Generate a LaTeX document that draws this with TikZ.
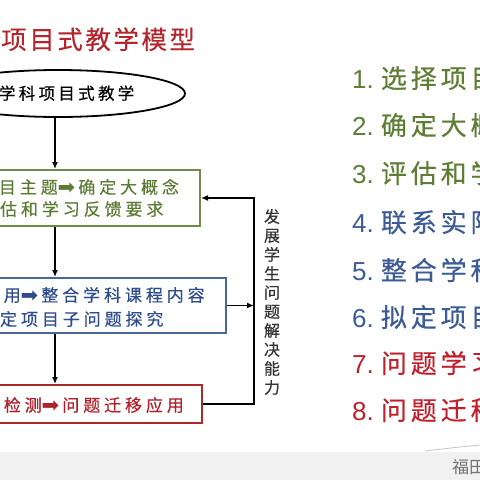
\documentclass[tikz,border=0pt]{standalone}
\usepackage{fontspec}
\newfontfamily\cjk{Noto Sans CJK SC}
\newfontfamily\djv{DejaVu Sans}
\newfontfamily\numf{Liberation Sans}
\usetikzlibrary{arrows.meta,shapes.geometric}
\definecolor{titlered}{HTML}{B3262D}
\definecolor{gbord}{HTML}{6F8A4B}
\definecolor{gtext}{HTML}{5C7A34}
\definecolor{bbord}{HTML}{48679A}
\definecolor{btext}{HTML}{2F4C8C}
\definecolor{rbord}{HTML}{A82A2A}
\definecolor{rtext}{HTML}{B0202A}
\definecolor{lgreen}{HTML}{5E7D35}
\definecolor{lblue}{HTML}{3D5B97}
\definecolor{lred}{HTML}{C0202B}
\definecolor{band}{HTML}{F1F1F1}
\newcommand{\harr}{{\djv\fontsize{21}{20}\selectfont\raisebox{-0.5pt}{➡}}\kern3pt}
\newcommand{\lcj}{\cjk\addfontfeature{LetterSpace=15,FakeBold=0.4}}
\begin{document}
\begin{tikzpicture}[x=1pt,y=-1pt,
  box/.style={draw, line width=2pt, fill=white, inner sep=0pt},
  bt/.style={anchor=base west, inner sep=0pt,
    font=\cjk\addfontfeature{LetterSpace=23,FakeBold=0.4}\fontsize{17}{20}\selectfont},
  lt/.style={anchor=base west, inner sep=0pt,
    font=\numf\fontsize{26}{30}\selectfont},
  arr/.style={line width=1.5pt, -{Latex[length=7pt,width=6pt]}},
  conn/.style={line width=1.5pt}]
\useasboundingbox (0,0) rectangle (480,480);
\clip (0,0) rectangle (480,480);
\fill[white] (0,0) rectangle (480,480);
% bottom band
\fill[band] (0,452) rectangle (480,480);
\draw[gray!45, line width=0.8pt] (425,451) .. controls (450,448) .. (480,445);
\node[anchor=base west, inner sep=0pt, text=gray!90!black,
  font=\cjk\fontsize{17}{20}\selectfont] (foot) at (452,473.5) {福田};
% title
\node[anchor=base west, inner sep=0pt, text=titlered,
  font=\cjk\addfontfeature{LetterSpace=10,FakeBold=0.3}\fontsize{25.5}{30}\selectfont] (title) at (1,49) {项目式教学模型};
% ellipse
\node[draw, ellipse, line width=1.8pt, minimum width=254pt, minimum height=47pt, inner sep=0pt] (e) at (58,93.5) {};
\node[anchor=base west, inner sep=0pt,
  font=\cjk\addfontfeature{LetterSpace=20,FakeBold=0.4}\fontsize{16.5}{20}\selectfont] (et) at (-21,99.5) {跨学科项目式教学};
% boxes
\node[box, draw=gbord, minimum width=268pt, minimum height=56pt] (b1) at (66,198) {};
\node[bt, text=gtext] (b1a) at (-64,193.5) {选择项目主题\harr 确定大概念};
\node[bt, text=gtext] (b1b) at (-21,215.5) {评估和学习反馈要求};
\node[box, draw=bbord, minimum width=326pt, minimum height=55pt] (b2) at (63,305.5) {};
\node[bt, text=btext] (b2a) at (-101,301.5) {联系实际应用\harr 整合学科课程内容};
\node[bt, text=btext] (b2b) at (-21,325.5) {拟定项目子问题探究};
\node[box, draw=rbord, minimum width=282pt, minimum height=38pt] (b3) at (61,404) {};
\node[bt, text=rtext] (b3a) at (-80,411.5) {问题学习检测\harr 问题迁移应用};
% connectors
\coordinate (ax) at (55,0);
\coordinate (bx) at (254,0);
\draw[arr] (ax |- e.south) -- (ax |- b1.north);
\draw[arr] (ax |- b1.south) -- (ax |- b2.north);
\draw[arr] (ax |- b2.south) -- (ax |- b3.north);
\draw[arr] (b2.east) -- (bx |- b2.east);
\draw[conn, -{Latex[length=7pt,width=6pt]}] (b3.east) -- (bx |- b3.east) -- (bx |- b1.east) -- (b1.east);
% vertical label
\node[align=center, inner sep=0pt, text=black!80,
  font=\cjk\addfontfeature{FakeBold=0.3}\fontsize{16}{19}\selectfont] (vl) at (272,302) {发\\展\\学\\生\\问\\题\\解\\决\\能\\力};
% right list
\node[lt, text=lgreen] (l1) at (352,88) {1.\hspace{7pt}{\lcj 选择项目主题}};
\node[lt, text=lgreen] (l2) at (352,135) {2.\hspace{7pt}{\lcj 确定大概念}};
\node[lt, text=lgreen] (l3) at (352,183) {3.\hspace{7pt}{\lcj 评估和学习反馈要求}};
\node[lt, text=lblue] (l4) at (352,232) {4.\hspace{7pt}{\lcj 联系实际应用}};
\node[lt, text=lblue] (l5) at (352,280) {5.\hspace{7pt}{\lcj 整合学科课程内容}};
\node[lt, text=lblue] (l6) at (352,327) {6.\hspace{7pt}{\lcj 拟定项目子问题探究}};
\node[lt, text=lred] (l7) at (352,373) {7.\hspace{7pt}{\lcj 问题学习检测}};
\node[lt, text=lred] (l8) at (352,420) {8.\hspace{7pt}{\lcj 问题迁移应用}};
\end{tikzpicture}
\end{document}
